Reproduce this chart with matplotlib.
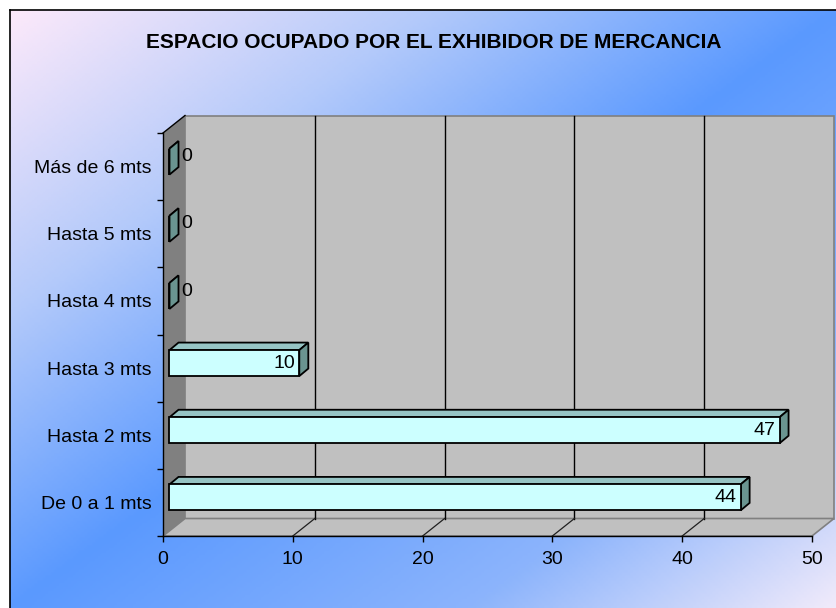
import numpy as np
import matplotlib
matplotlib.use("Agg")
import matplotlib.pyplot as plt
from matplotlib.patches import Polygon
from matplotlib.colors import LinearSegmentedColormap

# ---------------- data ----------------
categories = ["De 0 a 1 mts", "Hasta 2 mts", "Hasta 3 mts",
              "Hasta 4 mts", "Hasta 5 mts", "Más de 6 mts"]
values = [44, 47, 10, 0, 0, 0]
x_ticks = [0, 10, 20, 30, 40, 50]
title = "ESPACIO OCUPADO POR EL EXHIBIDOR DE MERCANCIA"

# ---------------- style ----------------
W, H = 837, 608
FONT = "Liberation Sans"
plt.rcParams['font.family'] = [FONT, 'DejaVu Sans']

fig = plt.figure(figsize=(W / 100, H / 100), dpi=100)
fig.patch.set_facecolor("white")

# background gradient (chart area)
bg = fig.add_axes([10 / W, 0, 1 - 10 / W, (H - 10) / H])
bg.set_axis_off()
nx, ny = 300, 220
gx = np.linspace(0, 1, nx)
gy = np.linspace(0, 1, ny)
GX, GY = np.meshgrid(gx, gy)
S = (GX + GY) / 2.0
cmap = LinearSegmentedColormap.from_list(
    "bg", [(0.0, (252/255, 233/255, 250/255)),
           (0.25, (180/255, 202/255, 250/255)),
           (0.5, (90/255, 153/255, 255/255)),
           (0.78, (140/255, 180/255, 252/255)),
           (1.0, (240/255, 234/255, 250/255))])
bg.imshow(S, cmap=cmap, aspect="auto", extent=[0, 1, 1, 0], vmin=0, vmax=1)
bg.set_xlim(0, 1)
bg.set_ylim(1, 0)
# border (top and left visible)
bg.plot([0, 0], [1, 0], color="black", lw=1.2, clip_on=False)
bg.plot([0, 1], [0, 0], color="black", lw=1.2, clip_on=False)

# main axes = front plane of the 3D box
px_left, px_right, px_top, px_bot = 163, 812, 133, 536
ax = fig.add_axes([px_left / W, (H - px_bot) / H,
                   (px_right - px_left) / W, (px_bot - px_top) / H])
ax.patch.set_visible(False)
xmax = x_ticks[-1]
n = len(categories)
ax.set_xlim(0, xmax)
ax.set_ylim(-0.5, n - 0.5)

# depth of the box in data units
ux = (px_right - px_left) / xmax          # px per unit
uy = (px_bot - px_top) / n                # px per category
DX = 22 / ux
DY = 17.5 / uy
y0, y1 = -0.5, n - 0.5

# back wall
ax.add_patch(Polygon([(DX, y0 + DY), (xmax + DX, y0 + DY), (xmax + DX, y1 + DY), (DX, y1 + DY)],
                     closed=True, facecolor="#C0C0C0", edgecolor="#808080", lw=1.2,
                     clip_on=False, zorder=1))
# left side wall
ax.add_patch(Polygon([(0, y0), (DX, y0 + DY), (DX, y1 + DY), (0, y1)],
                     closed=True, facecolor="#808080", edgecolor="none",
                     clip_on=False, zorder=1.1))
# floor
ax.add_patch(Polygon([(0, y0), (xmax, y0), (xmax + DX, y0 + DY), (DX, y0 + DY)],
                     closed=True, facecolor="#C0C0C0", edgecolor="#808080", lw=1.2,
                     clip_on=False, zorder=1.1))
# top edge of side wall
ax.plot([0, DX], [y1, y1 + DY], color="black", lw=1.0, clip_on=False, zorder=1.5)

# gridlines on back wall and floor
for t in x_ticks[1:-1]:
    ax.plot([t + DX, t + DX], [y0 + DY, y1 + DY], color="black", lw=1.0,
            clip_on=False, zorder=1.3)
    ax.plot([t, t + DX], [y0, y0 + DY], color="#202020", lw=0.9,
            clip_on=False, zorder=1.3)

# bars (depth offsets in px converted to data units)
fx, fy = 6.5 / ux, 5.0 / uy
tx, ty = 9.0 / ux, 7.5 / uy
hh = 13.0 / uy
ec = "black"
lw = 1.3
for i, v in enumerate(values):
    yc = i + fy
    yb, yt = yc - hh, yc + hh
    xl, xr = fx, v + fx
    # top face
    ax.add_patch(Polygon([(xl, yt), (xr, yt), (xr + tx, yt + ty), (xl + tx, yt + ty)],
                         closed=True, facecolor="#96C4C4", edgecolor=ec, lw=lw,
                         joinstyle="miter", clip_on=False, zorder=3))
    # side face
    ax.add_patch(Polygon([(xr, yb), (xr + tx, yb + ty), (xr + tx, yt + ty), (xr, yt)],
                         closed=True, facecolor="#6A9490", edgecolor=ec, lw=lw,
                         joinstyle="miter", clip_on=False, zorder=3))
    # front face
    ax.add_patch(Polygon([(xl, yb), (xr, yb), (xr, yt), (xl, yt)],
                         closed=True, facecolor="#CCFFFF", edgecolor=ec, lw=lw,
                         joinstyle="miter", clip_on=False, zorder=3.1))
    # value label
    if v > 0:
        ax.annotate(f"{v}", xy=(xr, yc), xytext=(-3, 0), textcoords="offset points",
                    ha="right", va="center", fontsize=14, color="black", zorder=5)
    else:
        ax.annotate(f"{v}", xy=(xr + tx, yc), xytext=(2, 3.5), textcoords="offset points",
                    ha="left", va="center", fontsize=14, color="black", zorder=5)

# axes lines and ticks
for s in ["top", "right"]:
    ax.spines[s].set_visible(False)
for s in ["left", "bottom"]:
    ax.spines[s].set_color("black")
    ax.spines[s].set_linewidth(1.0)
    ax.spines[s].set_zorder(4)

ax.set_xticks(x_ticks)
ax.set_xticklabels([str(t) for t in x_ticks], fontsize=14)
ax.tick_params(axis="x", direction="out", length=4, width=1, color="black", pad=7)

ax.set_yticks(np.arange(-0.5, n, 1.0))
ax.set_yticklabels([])
ax.set_yticks(np.arange(n), minor=True)
ax.set_yticklabels(categories, minor=True, fontsize=14)
ax.tick_params(axis="y", which="major", direction="out", length=4.5, width=1, color="black")
ax.tick_params(axis="y", which="minor", length=0, pad=8)

fig.text(434 / W, 1 - 43 / H, title, ha="center", va="center",
         fontsize=15, fontweight="bold", color="black")

fig.savefig("out.png", dpi=100)
